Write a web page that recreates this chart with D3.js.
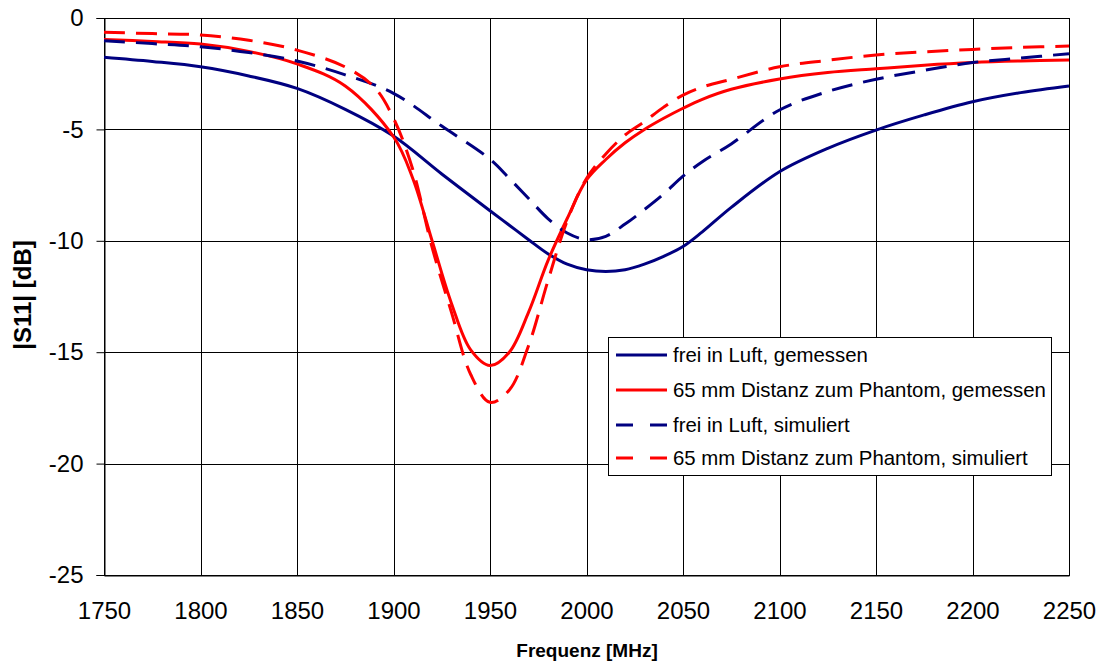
<!DOCTYPE html>
<html>
<head>
<meta charset="utf-8">
<script src="https://cdn.jsdelivr.net/npm/d3@7"></script>
<style>
  html, body { margin: 0; padding: 0; background: #fff; }
  svg { display: block; font-family: Arial, "Liberation Sans", sans-serif; }
</style>
</head>
<body>
<svg id="chart" width="1101" height="662"></svg>
<script>
// ---- data ----
const xTicks = [1750, 1800, 1850, 1900, 1950, 2000, 2050, 2100, 2150, 2200, 2250];
const yTicks = [0, -5, -10, -15, -20, -25];

const freqLuftGem = [1750, 1775, 1800, 1825, 1850, 1875, 1900, 1925, 1950, 1960, 1970, 1980, 1990, 2000, 2010, 2020, 2030, 2040, 2050, 2060, 2075, 2100, 2125, 2150, 2175, 2200, 2225, 2250];
const s11LuftGem  = [-1.76, -1.95, -2.19, -2.6, -3.16, -4.1, -5.3, -7.0, -8.65, -9.3, -9.95, -10.58, -11.05, -11.3, -11.38, -11.3, -11.05, -10.7, -10.26, -9.6, -8.5, -6.9, -5.85, -5.03, -4.35, -3.76, -3.35, -3.05];

const freqPhantomGem = [1750, 1775, 1800, 1825, 1850, 1875, 1900, 1910, 1920, 1930, 1940, 1950, 1960, 1970, 1980, 1990, 2000, 2010, 2020, 2030, 2040, 2050, 2060, 2075, 2100, 2125, 2150, 2175, 2200, 2225, 2250];
const s11PhantomGem  = [-0.96, -1.05, -1.17, -1.5, -2.06, -3.05, -5.33, -7.2, -10.0, -12.8, -14.9, -15.6, -15.0, -13.2, -10.9, -9.0, -7.27, -6.35, -5.6, -5.0, -4.5, -4.05, -3.65, -3.2, -2.74, -2.45, -2.28, -2.12, -2.0, -1.93, -1.89];

const freqLuftSim = [1750, 1775, 1800, 1825, 1850, 1875, 1900, 1925, 1950, 1960, 1970, 1980, 1990, 2000, 2010, 2020, 2030, 2040, 2050, 2060, 2075, 2100, 2125, 2150, 2175, 2200, 2225, 2250];
const s11LuftSim  = [-1.02, -1.15, -1.29, -1.55, -1.93, -2.55, -3.38, -4.85, -6.34, -7.2, -8.1, -9.0, -9.65, -9.95, -9.8, -9.25, -8.6, -7.9, -7.1, -6.45, -5.65, -4.13, -3.3, -2.75, -2.35, -2.0, -1.8, -1.6];

const freqPhantomSim = [1750, 1775, 1800, 1825, 1850, 1875, 1890, 1900, 1910, 1920, 1930, 1940, 1950, 1960, 1970, 1980, 1990, 2000, 2010, 2020, 2030, 2040, 2050, 2060, 2075, 2100, 2125, 2150, 2175, 2200, 2225, 2250];
const s11PhantomSim  = [-0.64, -0.7, -0.76, -1.0, -1.44, -2.2, -3.1, -4.5, -6.8, -10.3, -13.2, -16.0, -17.25, -16.7, -14.7, -11.8, -9.1, -7.2, -6.1, -5.25, -4.65, -4.0, -3.46, -3.1, -2.75, -2.19, -1.9, -1.66, -1.52, -1.41, -1.32, -1.26];

const seriesNames = [
  "frei in Luft, gemessen",
  "65 mm Distanz zum Phantom, gemessen",
  "frei in Luft, simuliert",
  "65 mm Distanz zum Phantom, simuliert"
];
const seriesColors = ["#000080", "#ff0000", "#000080", "#ff0000"];
const seriesDashed = [false, false, true, true];

const series = [
  { name: seriesNames[0], f: freqLuftGem, v: s11LuftGem },
  { name: seriesNames[1], f: freqPhantomGem, v: s11PhantomGem },
  { name: seriesNames[2], f: freqLuftSim, v: s11LuftSim },
  { name: seriesNames[3], f: freqPhantomSim, v: s11PhantomSim }
];

// ---- layout ----
const svg = d3.select("#chart");
const L = 104, R = 1069, T = 18, B = 575;

const x = d3.scaleLinear().domain([1750, 2250]).range([L, R]);
const y = d3.scaleLinear().domain([-25, 0]).range([B, T]);

svg.append("rect").attr("x", L).attr("y", T).attr("width", R - L).attr("height", B - T)
  .attr("fill", "#fff");

// grid
const grid = svg.append("g").attr("shape-rendering", "crispEdges");
grid.selectAll("line.v").data(xTicks).join("line")
  .attr("x1", d => Math.round(x(d)) + 0.5).attr("x2", d => Math.round(x(d)) + 0.5)
  .attr("y1", T).attr("y2", B)
  .attr("stroke", "#000").attr("stroke-width", 1);
grid.selectAll("line.h").data(yTicks).join("line")
  .attr("x1", L).attr("x2", R)
  .attr("y1", d => Math.round(y(d)) + 0.5).attr("y2", d => Math.round(y(d)) + 0.5)
  .attr("stroke", "#000").attr("stroke-width", 1);

const fmt = d => String(d);

// y axis
const yAxis = d3.axisLeft(y).tickValues(yTicks).tickSize(8).tickPadding(13).tickFormat(fmt);
const gy = svg.append("g").attr("transform", `translate(${L + 0.5},0)`).call(yAxis);
gy.select(".domain").attr("stroke", "#000");
gy.selectAll(".tick line").attr("stroke", "#000");
gy.selectAll("text").attr("font-size", 24).attr("fill", "#000")
  .attr("font-family", "Arial, 'Liberation Sans', sans-serif");

// x axis
const xAxis = d3.axisBottom(x).tickValues(xTicks).tickSize(0).tickPadding(26).tickFormat(fmt);
const gx = svg.append("g").attr("transform", `translate(0,${B + 0.5})`).call(xAxis);
gx.select(".domain").attr("stroke", "#000");
gx.selectAll("text").attr("font-size", 24).attr("fill", "#000")
  .attr("font-family", "Arial, 'Liberation Sans', sans-serif");

// frame
svg.append("rect").attr("x", L + 0.5).attr("y", T + 0.5).attr("width", R - L).attr("height", B - T)
  .attr("fill", "none").attr("stroke", "#000").attr("shape-rendering", "crispEdges");

// lines
const line = d3.line().x(d => x(d[0])).y(d => y(d[1])).curve(d3.curveCatmullRom.alpha(0.5));
const plot = svg.append("g");
series.forEach((s, i) => {
  const pts = s.f.map((f, k) => [f, s.v[k]]);
  plot.append("path").datum(pts)
    .attr("d", line)
    .attr("fill", "none")
    .attr("stroke", seriesColors[i])
    .attr("stroke-width", 3)
    .attr("stroke-linejoin", "round")
    .attr("stroke-dasharray", seriesDashed[i] ? "21,11" : null);
});

// legend
const lg = svg.append("g");
lg.append("rect").attr("x", 608.5).attr("y", 337.5).attr("width", 443).attr("height", 138)
  .attr("fill", "#fff").attr("stroke", "#000").attr("stroke-width", 1)
  .attr("shape-rendering", "crispEdges");
const legY = [355, 390, 425, 458];
series.forEach((s, i) => {
  lg.append("line").attr("x1", 616).attr("x2", 667).attr("y1", legY[i]).attr("y2", legY[i])
    .attr("stroke", seriesColors[i]).attr("stroke-width", 3)
    .attr("stroke-dasharray", seriesDashed[i] ? "17,17" : null);
  lg.append("text").attr("x", 673).attr("y", legY[i]).attr("dy", "0.35em")
    .attr("font-size", 20.4).attr("fill", "#000").text(s.name);
});

// axis titles
svg.append("text").attr("x", 587).attr("y", 657).attr("text-anchor", "middle")
  .attr("font-size", 19).attr("font-weight", "bold").text("Frequenz [MHz]");
svg.append("text").attr("transform", "translate(31,295) rotate(-90)")
  .attr("text-anchor", "middle").attr("font-size", 24).attr("font-weight", "bold")
  .text("|S11| [dB]");
</script>
</body>
</html>
